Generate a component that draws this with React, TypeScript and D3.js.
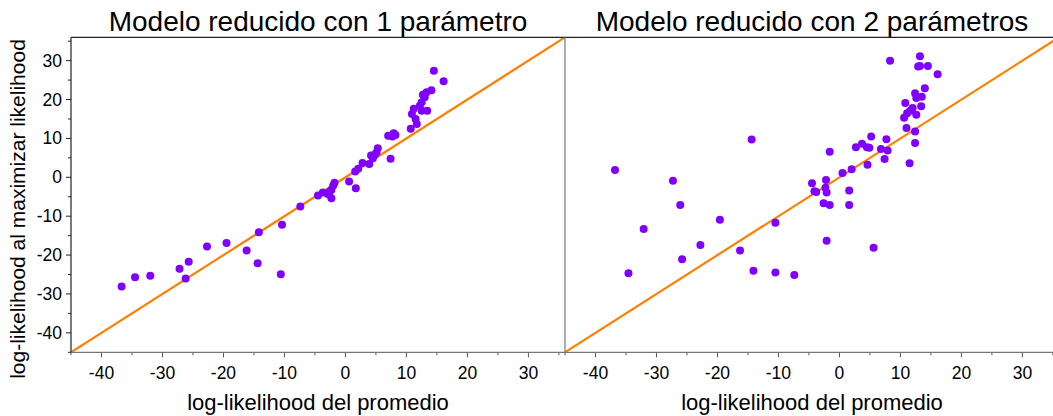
import React from "react";
import * as d3 from "d3";

// Panel titles and axis labels
const titles = ["Modelo reducido con 1 parámetro", "Modelo reducido con 2 parámetros"];
const xLabel = "log-likelihood del promedio";
const yLabel = "log-likelihood al maximizar likelihood";
const majorTicks = [-40, -30, -20, -10, 0, 10, 20, 30];
const minorTicks = [-45, -35, -25, -15, -5, 5, 15, 25, 35];
const domain: [number, number] = [-45, 36];

// Model with 1 parameter: [log-likelihood average, log-likelihood maximized]
const model1X = [
  -36.7, -34.5, -32.0, -27.2, -26.2, -25.7, -22.7, -19.5, -16.2, -14.4, -14.2, -10.6, -10.4, -7.4,
  -4.5, -3.7, -2.9, -2.6, -2.3, -2.3, -2.0, -1.8, 0.6, 1.7, 1.6, 2.1, 2.8, 3.9, 4.2, 4.5, 4.8, 5.1,
  5.3, 7.4, 7.0, 7.7, 7.9, 8.2, 10.7, 11.7, 11.5, 10.9, 12.5, 13.4, 11.2, 12.2, 12.5, 13.0, 12.7,
  13.3, 14.1, 16.1, 14.5,
];
const model1Y = [
  -28.1, -25.7, -25.3, -23.5, -26.0, -21.7, -17.8, -16.9, -18.8, -22.1, -14.1, -24.9, -12.2, -7.5,
  -4.7, -3.9, -4.3, -3.7, -3.2, -5.4, -2.1, -1.4, -1.1, -2.8, 1.5, 2.2, 3.7, 3.4, 5.6, 4.9, 5.8, 6.4,
  7.5, 4.8, 10.7, 10.5, 11.3, 10.9, 12.5, 13.7, 15.0, 16.3, 17.1, 17.1, 17.6, 18.4, 19.3, 20.6,
  21.2, 21.9, 22.4, 24.7, 27.4,
];

// Model with 2 parameters
const model2X = [
  -36.8, -34.6, -32.1, -27.3, -26.1, -25.8, -22.8, -19.6, -16.3, -14.4, -14.1, -10.5, -10.5, -7.4,
  -4.5, -4.1, -3.8, -2.2, -2.3, -2.1, -2.6, -1.6, -2.1, -1.6, 0.5, 1.6, 1.6, 2.0, 4.6, 5.6, 7.4,
  7.9, 6.8, 4.9, 4.5, 2.7, 3.7, 7.7, 5.2, 11.5, 12.4, 12.4, 11.0, 10.6, 12.6, 11.1, 11.6, 12.0,
  13.4, 10.8, 12.6, 13.5, 12.4, 14.0, 16.1, 14.5, 13.2, 12.9, 13.2, 8.3,
];
const model2Y = [
  1.9, -24.7, -13.3, -0.9, -7.1, -21.1, -17.4, -10.9, -18.8, 9.7, -24.0, -11.7, -24.5, -25.1,
  -1.5, -3.6, -3.8, -0.7, -2.7, -3.9, -6.7, -7.1, -16.3, 6.6, 1.1, -3.4, -7.1, 2.1, 3.2, -18.1, 4.7,
  6.9, 7.3, 7.6, 7.7, 7.7, 8.6, 9.8, 10.5, 3.6, 8.8, 11.8, 12.7, 15.3, 16.1, 16.5, 17.1, 17.8,
  18.3, 19.1, 20.4, 20.7, 21.6, 22.9, 26.5, 28.6, 28.6, 28.5, 31.1, 30.0,
];

const W = 1053;
const H = 416;
const top = 37.3;
const bottom = 352.3;
const panelW = 494;
const panelLefts = [71, 565];
const purple = "#7f00ff";
const orange = "#ff8000";
const font = "Liberation Sans, Arial, sans-serif";

function Panel({ idx, xs, ys }: { idx: number; xs: number[]; ys: number[] }) {
  const left = panelLefts[idx];
  const x = d3.scaleLinear().domain(domain).range([left, left + panelW]);
  const y = d3.scaleLinear().domain(domain).range([bottom, top]);
  const line = d3.line<number>().x((d) => x(d)).y((d) => y(d))(domain) || "";
  const cx = left + panelW / 2;
  return (
    <g>
      <clipPath id={`clip${idx}`}>
        <rect x={left} y={top} width={panelW} height={bottom - top} />
      </clipPath>
      <text x={cx} y={31} textAnchor="middle" fontSize={28} fontFamily={font} fill="#000">
        {titles[idx]}
      </text>
      {/* x axis ticks */}
      {majorTicks.map((t) => (
        <g key={`M${t}`}>
          <line x1={x(t)} x2={x(t)} y1={bottom} y2={bottom + 5} stroke="#555" strokeWidth={1} />
          <text x={x(t)} y={378.5} textAnchor="middle" fontSize={17.5} fontFamily={font} fill="#000">
            {t}
          </text>
        </g>
      ))}
      {minorTicks.map((t) => (
        <line key={`m${t}`} x1={x(t)} x2={x(t)} y1={bottom} y2={bottom + 3} stroke="#555" strokeWidth={1} />
      ))}
      <text x={cx} y={410} textAnchor="middle" fontSize={22} fontFamily={font} fill="#000">
        {xLabel}
      </text>
      {idx === 0 && (
        <g>
          {majorTicks.map((t) => (
            <g key={`yM${t}`}>
              <line x1={left - 5} x2={left} y1={y(t)} y2={y(t)} stroke="#222" strokeWidth={1} />
              <text x={62} y={y(t) + 6} textAnchor="end" fontSize={17.5} fontFamily={font} fill="#000">
                {t}
              </text>
            </g>
          ))}
          {minorTicks.map((t) => (
            <line key={`ym${t}`} x1={left - 3} x2={left} y1={y(t)} y2={y(t)} stroke="#222" strokeWidth={1} />
          ))}
        </g>
      )}
      <g clipPath={`url(#clip${idx})`}>
        <path d={line} stroke={orange} strokeWidth={2.2} fill="none" />
        {xs.map((v, i) => (
          <circle key={i} cx={x(v)} cy={y(ys[i])} r={4} fill={purple} />
        ))}
      </g>
      {/* frame */}
      <line x1={left} x2={left + panelW} y1={bottom} y2={bottom} stroke="#777" strokeWidth={1.2} />
      <line x1={left} x2={left + panelW} y1={top} y2={top} stroke="#222" strokeWidth={1.2} />
      <line
        x1={left}
        x2={left}
        y1={top}
        y2={bottom}
        stroke={idx === 0 ? "#222" : "#777"}
        strokeWidth={1.2}
      />
    </g>
  );
}

export default function App() {
  return (
    <svg width={W} height={H} style={{ position: "absolute", left: 0, top: 0, background: "#fff" }}>
      <rect width={W} height={H} fill="#fff" />
      <Panel idx={0} xs={model1X} ys={model1Y} />
      <Panel idx={1} xs={model2X} ys={model2Y} />
      <text
        transform={`translate(25, 209) rotate(-90)`}
        textAnchor="middle"
        fontSize={21}
        fontFamily={font}
        fill="#000"
      >
        {yLabel}
      </text>
    </svg>
  );
}
